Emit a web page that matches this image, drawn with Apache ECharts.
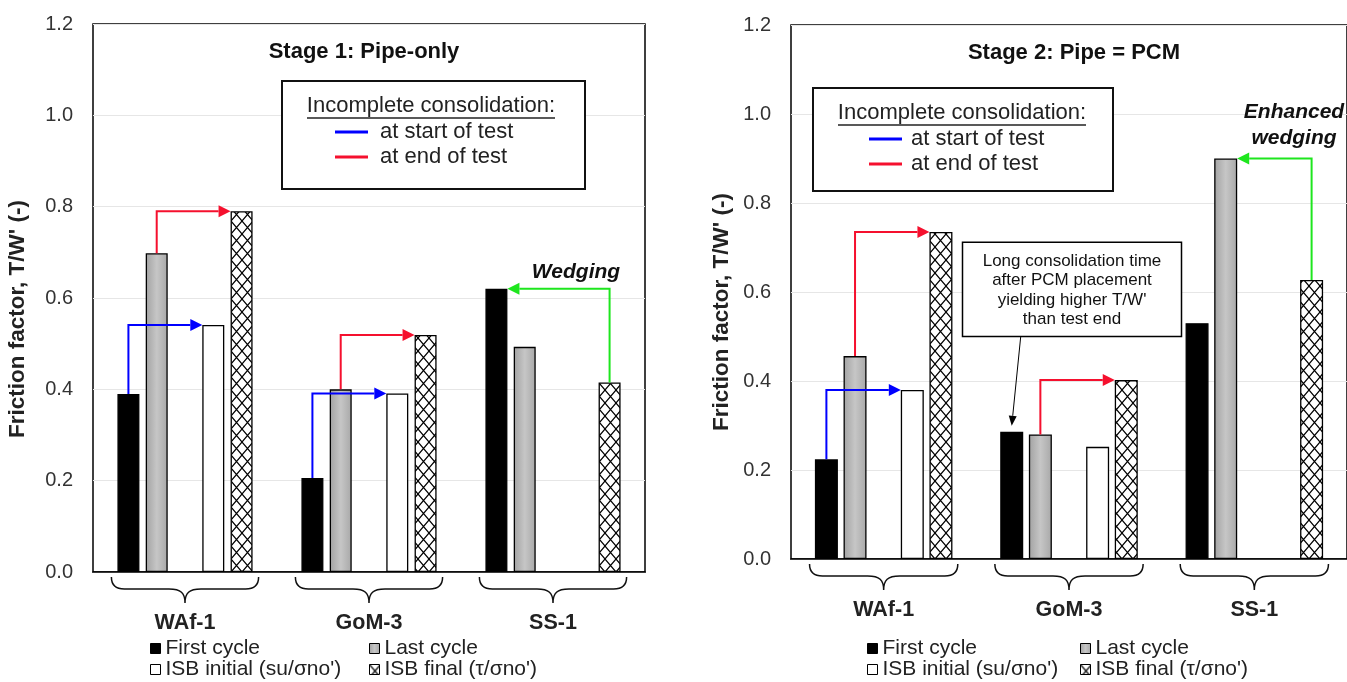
<!DOCTYPE html>
<html>
<head>
<meta charset="utf-8">
<script src="https://cdn.jsdelivr.net/npm/echarts@6/dist/echarts.min.js"></script>
<style>
  html, body { margin: 0; padding: 0; background: #fff; }
  #chart { width: 1347px; height: 682px; }
</style>
</head>
<body>
<div id="chart"></div>
<script>
// ---- data ----
const sites = ['WAf-1', 'GoM-3', 'SS-1'];
const nameFirst = 'First cycle';
const nameLast = 'Last cycle';
const nameIsbInitial = "ISB initial (su/σno')";
const nameIsbFinal = "ISB final (τ/σno')";
const yTickLabels = ['0.0', '0.2', '0.4', '0.6', '0.8', '1.0', '1.2'];

// Stage 1: pipe-only
const stage1First = [0.39, 0.206, 0.62];
const stage1Last = [0.698, 0.40, 0.493];
const stage1IsbInitial = [0.541, 0.391, null];
const stage1IsbFinal = [0.79, 0.519, 0.415];

// Stage 2: pipe + PCM
const stage2First = [0.224, 0.286, 0.53];
const stage2Last = [0.456, 0.28, 0.90];
const stage2IsbInitial = [0.38, 0.252, null];
const stage2IsbFinal = [0.735, 0.402, 0.627];

// consolidation arrows: [site index, from series, to series, kind]
const stage1Arrows = [
  [0, 'first', 'isbInitial', 'start'],
  [0, 'last', 'isbFinal', 'end'],
  [1, 'first', 'isbInitial', 'start'],
  [1, 'last', 'isbFinal', 'end'],
  [2, 'isbFinal', 'first', 'wedging']
];
const stage2Arrows = [
  [0, 'first', 'isbInitial', 'start'],
  [0, 'last', 'isbFinal', 'end'],
  [1, 'last', 'isbFinal', 'end'],
  [2, 'isbFinal', 'last', 'wedging']
];

// ---- styling & layout ----
const FONT = "'Liberation Sans', Arial, Helvetica, sans-serif";
const kindColors = { start: '#0000ff', end: '#f5102e', wedging: '#1ee61e' };
const slotOf = { first: 0, last: 1, isbInitial: 3, isbFinal: 4 };
const layouts = [
  { barWidth: 22, gap: 0.286 },
  { barWidth: 23, gap: 0.245 }
];

function hatchPattern() {
  const c = document.createElement('canvas');
  c.width = 11; c.height = 13;
  const g = c.getContext('2d');
  g.fillStyle = '#fff';
  g.fillRect(0, 0, 11, 13);
  g.strokeStyle = '#000';
  g.lineWidth = 1.2;
  g.beginPath();
  g.moveTo(0, 0); g.lineTo(11, 13);
  g.moveTo(11, 0); g.lineTo(0, 13);
  g.stroke();
  return { image: c, repeat: 'repeat' };
}
const hatch = hatchPattern();
const greyFill = new echarts.graphic.LinearGradient(0, 0, 1, 0, [
  { offset: 0, color: '#a2a2a2' },
  { offset: 0.5, color: '#c6c6c6' },
  { offset: 1, color: '#a8a8a8' }
]);

function barSeries(idx, name, data, fill) {
  const L = layouts[idx];
  return {
    type: 'bar', name: name, data: data,
    xAxisIndex: idx, yAxisIndex: idx,
    barWidth: L.barWidth, barGap: (L.gap * 100) + '%',
    itemStyle: { color: fill, borderColor: '#000', borderWidth: 1.3 },
    emphasis: { disabled: true },
    z: 2
  };
}

function stageSeries(idx, first, last, isbInitial, isbFinal) {
  return [
    barSeries(idx, nameFirst, first, '#000'),
    barSeries(idx, nameLast, last, greyFill),
    barSeries(idx, 'spacer-' + idx, first.map(() => null), '#fff'),
    barSeries(idx, nameIsbInitial, isbInitial, '#fff'),
    barSeries(idx, nameIsbFinal, isbFinal, hatch)
  ];
}

function arrowSeries(idx, arrows, values) {
  const L = layouts[idx];
  const data = arrows.map(a => [a[0], values[a[1]][a[0]], values[a[2]][a[0]], slotOf[a[1]], slotOf[a[2]]]);
  return {
    type: 'custom', xAxisIndex: idx, yAxisIndex: idx, z: 5, clip: false,
    silent: true,
    encode: { x: 0, y: 1 },
    data: data,
    renderItem: function (params, api) {
      const cat = api.value(0);
      const p0 = api.coord([cat, api.value(1)]);
      const y1 = api.coord([cat, api.value(2)])[1];
      const step = L.barWidth * (1 + L.gap);
      const fromSlot = api.value(3), toSlot = api.value(4);
      const x0 = p0[0] + (fromSlot - 2) * step;
      const dir = toSlot > fromSlot ? 1 : -1;
      const xt = p0[0] + (toSlot - 2) * step - dir * L.barWidth / 2;
      const color = kindColors[arrows[params.dataIndex][3]];
      const head = 12, half = 6;
      return {
        type: 'group',
        children: [
          { type: 'polyline', shape: { points: [[x0, p0[1]], [x0, y1], [xt - dir * head, y1]] },
            style: { stroke: color, lineWidth: 2, fill: null } },
          { type: 'polygon', shape: { points: [[xt, y1], [xt - dir * head, y1 - half], [xt - dir * head, y1 + half]] },
            style: { fill: color } }
        ]
      };
    }
  };
}

function braceSeries(idx) {
  return {
    type: 'custom', xAxisIndex: idx, yAxisIndex: idx, z: 5, clip: false, silent: true,
    encode: { x: 0, y: 1 },
    data: sites.map((s, i) => [i, 0]),
    renderItem: function (params, api) {
      const p = api.coord([api.value(0), 0]);
      const hw = api.size([1, 0])[0] * 0.4;
      const cx = p[0], y0 = p[1] + 5, ym = p[1] + 17, yt = p[1] + 31;
      const path = 'M' + (cx - hw) + ' ' + y0 +
        ' Q' + (cx - hw) + ' ' + ym + ' ' + (cx - hw + 13) + ' ' + ym +
        ' L' + (cx - 16) + ' ' + ym +
        ' C' + (cx - 4) + ' ' + ym + ' ' + cx + ' ' + (ym + 4) + ' ' + cx + ' ' + yt +
        ' C' + cx + ' ' + (ym + 4) + ' ' + (cx + 4) + ' ' + ym + ' ' + (cx + 16) + ' ' + ym +
        ' L' + (cx + hw - 13) + ' ' + ym +
        ' Q' + (cx + hw) + ' ' + ym + ' ' + (cx + hw) + ' ' + y0;
      return { type: 'path', shape: { pathData: path }, style: { stroke: '#111', lineWidth: 1.5, fill: null } };
    }
  };
}

// note box pointing at the GoM-3 first-cycle bar in stage 2
function noteSeries() {
  const L = layouts[1];
  return {
    type: 'custom', xAxisIndex: 1, yAxisIndex: 1, z: 6, clip: false, silent: true,
    encode: { x: 0, y: 1 },
    data: [[1, stage2First[1]]],
    renderItem: function (params, api) {
      const cat = api.value(0);
      const cx = api.coord([cat, 0])[0];
      const top = api.coord([cat, 0.712])[1];
      const bot = api.coord([cat, 0.5])[1];
      const w = 219, bx = cx + 3 - w / 2;
      const step = L.barWidth * (1 + L.gap);
      const tx = cx - 2 * step, ty = api.coord([cat, api.value(1)])[1] - 6;
      const sx = tx + 9, sy = bot;
      const dx = tx - sx, dy = ty - sy, len = Math.sqrt(dx * dx + dy * dy);
      const ux = dx / len, uy = dy / len, hl = 10, hh = 4;
      const bxp = tx - ux * hl, byp = ty - uy * hl;
      return {
        type: 'group',
        children: [
          { type: 'rect', shape: { x: bx, y: top, width: w, height: bot - top },
            style: { fill: '#fff', stroke: '#000', lineWidth: 1.5 } },
          { type: 'text', x: cx + 3, y: (top + bot) / 2 + 1,
            style: { text: 'Long consolidation time\nafter PCM placement\nyielding higher T/W\'\nthan test end',
              font: '17px ' + FONT, fill: '#111', align: 'center', verticalAlign: 'middle', lineHeight: 19.5 } },
          { type: 'line', shape: { x1: sx, y1: sy, x2: bxp, y2: byp }, style: { stroke: '#000', lineWidth: 1 } },
          { type: 'polygon', shape: { points: [[tx, ty], [bxp - uy * hh, byp + ux * hh], [bxp + uy * hh, byp - ux * hh]] },
            style: { fill: '#000' } }
        ]
      };
    }
  };
}

function xAxisFor(idx) {
  return {
    gridIndex: idx, type: 'category', data: sites,
    axisTick: { show: false },
    axisLine: { lineStyle: { color: '#000', width: 1.5 } },
    axisLabel: { margin: 40, fontFamily: FONT, fontWeight: 'bold', fontSize: 21.5, color: '#222' },
    splitLine: { show: false }
  };
}
function yAxisFor(idx, labelMargin, nameGap, shift) {
  return {
    gridIndex: idx, type: 'value', min: 0, max: 1.2, interval: 0.2,
    axisLine: { show: false }, axisTick: { show: false },
    axisLabel: { margin: labelMargin, fontFamily: FONT, fontSize: 20, color: '#333',
      formatter: v => yTickLabels[Math.round(v / 0.2)] },
    splitLine: { show: true, lineStyle: { color: '#e6e6e6', width: 1 } },
    name: "Friction factor, T/W' (-)", nameLocation: 'middle', nameGap: nameGap,
    nameTextStyle: { fontFamily: FONT, fontWeight: 'bold', fontSize: 22.5, color: '#222', padding: [0, shift, 0, 0] }
  };
}

function legendCol(names, left) {
  return {
    data: names, left: left, top: 638, orient: 'vertical', padding: 0,
    itemWidth: 10, itemHeight: 10, itemGap: 0,
    icon: 'rect', selectedMode: false,
    itemStyle: { borderColor: '#000', borderWidth: 1 },
    textStyle: { fontFamily: FONT, fontSize: 21, color: '#222', lineHeight: 21 }
  };
}

function keyBox(x, y, w, h, titleX, lineX, textX) {
  const t = FONT;
  return [
    { type: 'rect', shape: { x: x, y: y, width: w, height: h }, style: { fill: '#fff', stroke: '#111', lineWidth: 2 }, z: 10 },
    { type: 'text', x: titleX, y: y + 25, z: 11,
      style: { text: 'Incomplete consolidation:', font: '22px ' + t, fill: '#222', align: 'center', verticalAlign: 'middle' } },
    { type: 'line', shape: { x1: titleX - 124, y1: y + 37, x2: titleX + 124, y2: y + 37 }, style: { stroke: '#222', lineWidth: 1.3 }, z: 11 },
    { type: 'line', shape: { x1: lineX, y1: y + 51, x2: lineX + 33, y2: y + 51 }, style: { stroke: kindColors.start, lineWidth: 3 }, z: 11 },
    { type: 'text', x: textX, y: y + 51, z: 11,
      style: { text: 'at start of test', font: '22px ' + t, fill: '#222', align: 'left', verticalAlign: 'middle' } },
    { type: 'line', shape: { x1: lineX, y1: y + 76, x2: lineX + 33, y2: y + 76 }, style: { stroke: kindColors.end, lineWidth: 3 }, z: 11 },
    { type: 'text', x: textX, y: y + 76, z: 11,
      style: { text: 'at end of test', font: '22px ' + t, fill: '#222', align: 'left', verticalAlign: 'middle' } }
  ];
}

const values1 = { first: stage1First, last: stage1Last, isbInitial: stage1IsbInitial, isbFinal: stage1IsbFinal };
const values2 = { first: stage2First, last: stage2Last, isbInitial: stage2IsbInitial, isbFinal: stage2IsbFinal };

const chart = echarts.init(document.getElementById('chart'), null, { renderer: 'canvas' });
chart.setOption({
  animation: false,
  backgroundColor: '#fff',
  grid: [
    { left: 93, top: 24, width: 552, height: 548, show: true, borderColor: '#000', borderWidth: 1.5, backgroundColor: '#fff' },
    { left: 791, top: 25, width: 568, height: 534, show: true, borderColor: '#000', borderWidth: 1.5, backgroundColor: '#fff' }
  ],
  xAxis: [xAxisFor(0), xAxisFor(1)],
  yAxis: [yAxisFor(0, 20, 64, 42), yAxisFor(1, 20, 58, 40)],
  legend: [
    legendCol([nameFirst, nameIsbInitial], 150),
    legendCol([nameLast, nameIsbFinal], 369),
    legendCol([nameFirst, nameIsbInitial], 867),
    legendCol([nameLast, nameIsbFinal], 1080)
  ],
  graphic: [
    { type: 'text', x: 364, y: 52, z: 11,
      style: { text: 'Stage 1: Pipe-only', font: 'bold 22px ' + FONT, fill: '#111', align: 'center', verticalAlign: 'middle' } },
    { type: 'text', x: 1074, y: 53, z: 11,
      style: { text: 'Stage 2: Pipe = PCM', font: 'bold 22px ' + FONT, fill: '#111', align: 'center', verticalAlign: 'middle' } },
    ...keyBox(282, 81, 303, 108, 431, 335, 380),
    ...keyBox(813, 88, 300, 103, 962, 869, 911),
    { type: 'text', x: 576, y: 272, z: 11,
      style: { text: 'Wedging', font: 'italic bold 21px ' + FONT, fill: '#111', align: 'center', verticalAlign: 'middle' } },
    { type: 'text', x: 1294, y: 125, z: 11,
      style: { text: 'Enhanced\nwedging', font: 'italic bold 21px ' + FONT, fill: '#111', align: 'center', verticalAlign: 'middle', lineHeight: 26 } }
  ],
  series: [
    ...stageSeries(0, stage1First, stage1Last, stage1IsbInitial, stage1IsbFinal),
    ...stageSeries(1, stage2First, stage2Last, stage2IsbInitial, stage2IsbFinal),
    arrowSeries(0, stage1Arrows, values1),
    arrowSeries(1, stage2Arrows, values2),
    braceSeries(0),
    braceSeries(1),
    noteSeries()
  ]
});
</script>
</body>
</html>
